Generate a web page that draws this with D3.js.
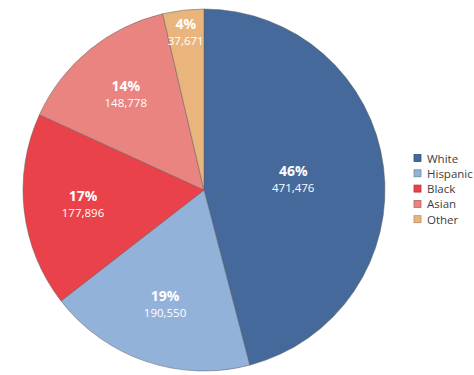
<!DOCTYPE html>
<html>
<head>
<meta charset="utf-8">
<script src="https://cdn.jsdelivr.net/npm/d3@7"></script>
<style>
  body { margin: 0; background: #fff; }
  text { font-family: "Open Sans", "Noto Sans", sans-serif; }
</style>
</head>
<body>
<div id="chart"></div>
<script>
// data
var groups = ["White", "Hispanic", "Black", "Asian", "Other"];
var counts = [471476, 190550, 177896, 148778, 37671];
var percentLabels = ["46%", "19%", "17%", "14%", "4%"];
var colors = ["#46699b", "#93b2d9", "#ea424a", "#ea8480", "#e9b57c"];

var width = 474, height = 375;
var cx = 204, cy = 190, radius = 181;

var svg = d3.select("#chart")
  .append("svg")
    .attr("width", width)
    .attr("height", height);

var g = svg.append("g")
  .attr("transform", "translate(" + cx + "," + cy + ")");

var pie = d3.pie().sort(null).value(function(d) { return d; });
var arcs = pie(counts);

var arc = d3.arc().innerRadius(0).outerRadius(radius);

g.selectAll("path.slice")
  .data(arcs)
  .enter()
  .append("path")
    .attr("class", "slice")
    .attr("d", arc)
    .style("fill", function(d, i) { return colors[i]; })
    .style("stroke", "#5a5a5a")
    .style("stroke-opacity", 0.6)
    .style("stroke-width", 0.8);

// labels: put them near the centroid of each sector, pushed out when the slice is too narrow
arcs.forEach(function(d, i) {
  var half = (d.endAngle - d.startAngle) / 2;
  var mid = d.startAngle + half;
  var centroidR = 2 * radius * Math.sin(half) / (3 * half) + 7;
  var label = g.append("g");
  var t1 = label.append("text")
    .attr("text-anchor", "middle")
    .attr("y", -3)
    .style("font-size", "14px")
    .style("font-weight", "bold")
    .style("fill", "#fff")
    .text(percentLabels[i]);
  var t2 = label.append("text")
    .attr("text-anchor", "middle")
    .attr("y", 13)
    .style("font-size", "11.5px")
    .style("fill", "#fff")
    .text(d3.format(",")(counts[i]));
  var w = Math.max(t1.node().getComputedTextLength(), t2.node().getComputedTextLength());
  var fitR = (w + 2) / (2 * Math.sin(half)) + 2;
  var r = Math.min(Math.max(centroidR, fitR), radius - 22);
  label.attr("transform", "translate(" + (r * Math.sin(mid)) + "," + (-r * Math.cos(mid)) + ")");
});

// legend
var legend = svg.append("g").attr("transform", "translate(414,158)");
groups.forEach(function(name, i) {
  legend.append("rect")
    .attr("x", 0).attr("y", i * 15.3 - 3.5)
    .attr("width", 7).attr("height", 7)
    .style("fill", colors[i])
    .style("stroke", d3.color(colors[i]).darker(0.7))
    .style("stroke-width", 0.8);
  legend.append("text")
    .attr("x", 13).attr("y", i * 15.3)
    .attr("dominant-baseline", "central")
    .style("font-size", "11.5px")
    .style("fill", "#404040")
    .text(name);
});
</script>
</body>
</html>
